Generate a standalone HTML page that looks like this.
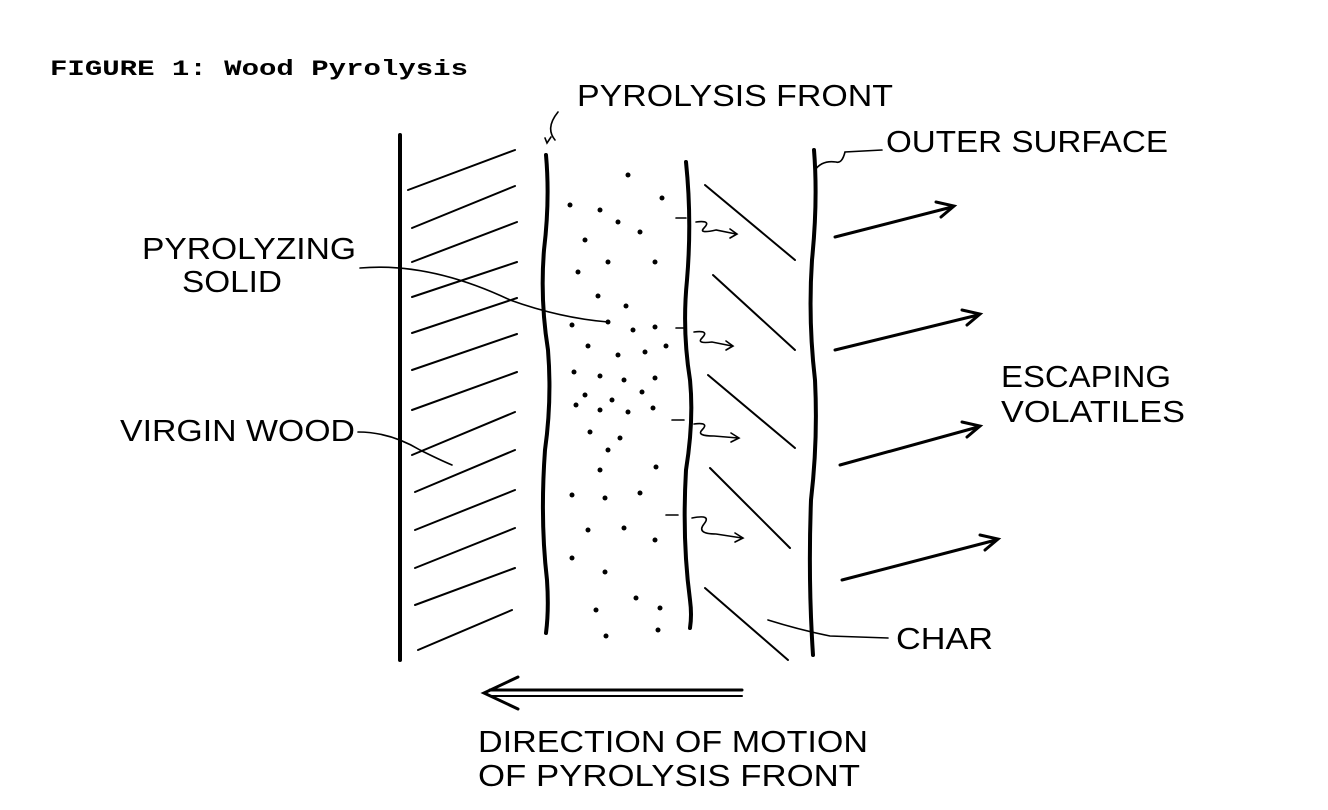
<!DOCTYPE html>
<html><head><meta charset="utf-8"><style>
html,body{margin:0;padding:0;background:#fff;}
svg{display:block}
text{font-family:"Liberation Sans",sans-serif;fill:#000}
</style></head><body>
<svg width="1328" height="810" viewBox="0 0 1328 810" xmlns="http://www.w3.org/2000/svg">
<text x="50" y="75" style="font-family:'Liberation Mono',monospace;font-weight:bold" font-size="22" textLength="418" lengthAdjust="spacingAndGlyphs">FIGURE 1:  Wood Pyrolysis</text>
<g stroke="#000" fill="none" stroke-linecap="round">
<!-- left wall -->
<line x1="400" y1="135" x2="400" y2="660" stroke-width="4"/>
<!-- virgin wood hatch -->
<g stroke-width="2">
<line x1="408" y1="190" x2="515" y2="150"/>
<line x1="412" y1="228" x2="515" y2="186"/>
<line x1="412" y1="262" x2="517" y2="222"/>
<line x1="412" y1="297" x2="517" y2="262"/>
<line x1="412" y1="333" x2="517" y2="298"/>
<line x1="412" y1="370" x2="517" y2="334"/>
<line x1="412" y1="410" x2="517" y2="372"/>
<line x1="412" y1="455" x2="515" y2="412"/>
<line x1="415" y1="492" x2="515" y2="450"/>
<line x1="415" y1="530" x2="515" y2="490"/>
<line x1="415" y1="568" x2="515" y2="528"/>
<line x1="415" y1="605" x2="515" y2="568"/>
<line x1="418" y1="650" x2="512" y2="610"/>
</g>
<!-- wavy lines -->
<path d="M546 155 Q550 200 544 250 Q540 300 548 350 Q552 400 545 450 Q540 520 547 580 Q549 610 546 633" stroke-width="4"/>
<path d="M686 162 Q692 220 687 280 Q682 330 690 380 Q694 420 686 470 Q682 540 690 600 Q692 615 690 628" stroke-width="4"/>
<path d="M814 150 Q818 200 812 260 Q808 320 815 380 Q818 440 811 500 Q808 580 813 655" stroke-width="4"/>
<!-- char hatch -->
<g stroke-width="2">
<line x1="705" y1="185" x2="795" y2="260"/>
<line x1="713" y1="275" x2="795" y2="350"/>
<line x1="708" y1="375" x2="795" y2="448"/>
<line x1="710" y1="468" x2="790" y2="548"/>
<line x1="705" y1="588" x2="788" y2="660"/>
</g>
<!-- volatile arrows -->
<g stroke-width="3">
<line x1="835" y1="237" x2="952" y2="207"/><path d="M936 202 L954 206 L941 217"/>
<line x1="835" y1="350" x2="978" y2="315"/><path d="M962 310 L980 314 L967 325"/>
<line x1="840" y1="465" x2="978" y2="427"/><path d="M962 422 L980 426 L967 437"/>
<line x1="842" y1="580" x2="996" y2="540"/><path d="M980 535 L998 539 L985 550"/>
<!-- direction arrow -->
<line x1="490" y1="690" x2="742" y2="690"/><line x1="490" y1="696" x2="742" y2="696" stroke-width="2"/>
<path d="M518 677 L484 693 L518 709"/>
</g>
<!-- small squiggle arrows -->
<g stroke-width="1.6">
<path d="M676 218 L686 218 M696 222 Q712 220 704 228 Q698 234 716 230 L736 234 M730 229 L737 234 L730 238"/>
<path d="M676 328 L686 328 M694 332 Q710 330 702 338 Q696 344 712 342 L732 346 M726 341 L733 346 L726 350"/>
<path d="M672 420 L684 420 M694 424 Q710 422 702 430 Q696 436 714 436 L738 438 M731 433 L739 438 L731 442"/>
<path d="M666 515 L678 515 M692 518 Q712 514 704 524 Q696 534 716 534 L742 538 M735 533 L743 538 L735 542"/>
</g>
<!-- leaders -->
<g stroke-width="1.6">
<path d="M555 140 Q545 128 558 112"/><path d="M545 138 L547 143 L551 137"/>
<path d="M815 170 Q822 160 836 162 Q842 164 845 152 L882 150"/>
<path d="M360 268 Q430 262 510 300 Q560 318 608 322"/>
<path d="M358 432 Q390 432 420 450 Q440 460 452 465"/>
<path d="M768 620 Q800 630 830 636 L888 638"/>
</g>
</g>
<!-- dots -->
<g fill="#000">
<circle cx="628" cy="175" r="2.5"/><circle cx="570" cy="205" r="2.5"/><circle cx="600" cy="210" r="2.5"/><circle cx="662" cy="198" r="2.5"/>
<circle cx="618" cy="222" r="2.5"/><circle cx="585" cy="240" r="2.5"/><circle cx="640" cy="232" r="2.5"/><circle cx="608" cy="262" r="2.5"/>
<circle cx="578" cy="272" r="2.5"/><circle cx="655" cy="262" r="2.5"/><circle cx="598" cy="296" r="2.5"/><circle cx="626" cy="306" r="2.5"/>
<circle cx="572" cy="325" r="2.5"/><circle cx="608" cy="322" r="2.5"/><circle cx="633" cy="330" r="2.5"/><circle cx="655" cy="327" r="2.5"/>
<circle cx="588" cy="346" r="2.5"/><circle cx="618" cy="355" r="2.5"/><circle cx="645" cy="352" r="2.5"/><circle cx="666" cy="346" r="2.5"/>
<circle cx="574" cy="372" r="2.5"/><circle cx="600" cy="376" r="2.5"/><circle cx="624" cy="380" r="2.5"/><circle cx="655" cy="378" r="2.5"/>
<circle cx="585" cy="395" r="2.5"/><circle cx="612" cy="400" r="2.5"/><circle cx="642" cy="392" r="2.5"/><circle cx="576" cy="405" r="2.5"/>
<circle cx="600" cy="410" r="2.5"/><circle cx="628" cy="412" r="2.5"/><circle cx="653" cy="408" r="2.5"/><circle cx="590" cy="432" r="2.5"/>
<circle cx="620" cy="438" r="2.5"/><circle cx="608" cy="450" r="2.5"/><circle cx="656" cy="467" r="2.5"/><circle cx="600" cy="470" r="2.5"/>
<circle cx="572" cy="495" r="2.5"/><circle cx="605" cy="498" r="2.5"/><circle cx="640" cy="493" r="2.5"/><circle cx="588" cy="530" r="2.5"/>
<circle cx="624" cy="528" r="2.5"/><circle cx="655" cy="540" r="2.5"/><circle cx="572" cy="558" r="2.5"/><circle cx="605" cy="572" r="2.5"/>
<circle cx="636" cy="598" r="2.5"/><circle cx="596" cy="610" r="2.5"/><circle cx="658" cy="630" r="2.5"/><circle cx="606" cy="636" r="2.5"/>
<circle cx="660" cy="608" r="2.5"/>
</g>
<!-- labels -->
<g font-size="31">
<text x="577" y="106" textLength="316" lengthAdjust="spacingAndGlyphs">PYROLYSIS FRONT</text>
<text x="886" y="152" textLength="282" lengthAdjust="spacingAndGlyphs">OUTER SURFACE</text>
<text x="142" y="259" textLength="214" lengthAdjust="spacingAndGlyphs">PYROLYZING</text>
<text x="182" y="292" textLength="100" lengthAdjust="spacingAndGlyphs">SOLID</text>
<text x="1001" y="387" textLength="170" lengthAdjust="spacingAndGlyphs">ESCAPING</text>
<text x="1001" y="422" textLength="184" lengthAdjust="spacingAndGlyphs">VOLATILES</text>
<text x="120" y="441" textLength="235" lengthAdjust="spacingAndGlyphs">VIRGIN WOOD</text>
<text x="896" y="649" textLength="97" lengthAdjust="spacingAndGlyphs">CHAR</text>
<text x="478" y="752" textLength="390" lengthAdjust="spacingAndGlyphs">DIRECTION OF MOTION</text>
<text x="478" y="786" textLength="382" lengthAdjust="spacingAndGlyphs">OF PYROLYSIS FRONT</text>
</g>
</svg>
</body></html>
